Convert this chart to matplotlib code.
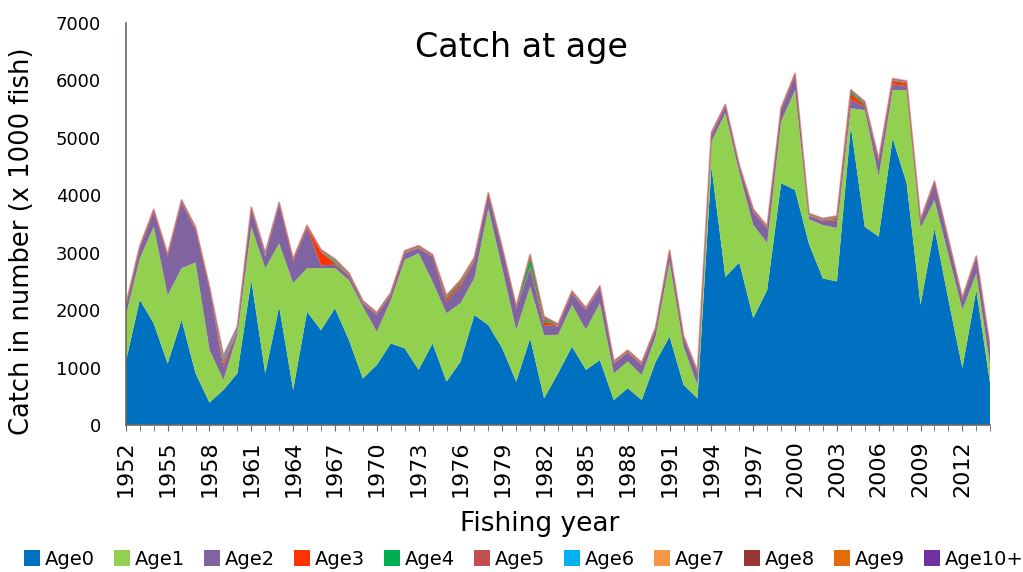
import numpy as np
import matplotlib
matplotlib.use("Agg")
import matplotlib.pyplot as plt
from matplotlib.ticker import FixedLocator, MultipleLocator

# Fishing years
years = list(range(1952, 2015))

# Catch at age (x 1000 fish)
age0 = [1100, 2180, 1770, 1070, 1830, 900, 390, 610, 900, 2520,
        900, 2060, 610, 1970, 1650, 2030, 1480, 810, 1045, 1420,
        1335, 960, 1420, 755, 1100, 1915, 1740, 1335, 755, 1510,
        465, 900, 1365, 960, 1130, 435, 640, 435, 1100, 1540,
        700, 465, 4500, 2580, 2830, 1860, 2350, 4210, 4090, 3150,
        2550, 2500, 5200, 3450, 3280, 4990, 4210, 2090, 3425, 2180,
        990, 2350, 700]
age1 = [800, 720, 1680, 1190, 900, 1930, 920, 175, 670, 930,
        1830, 1100, 1860, 760, 1080, 700, 1045, 1250, 580, 750,
        1540, 2030, 1075, 1190, 1020, 640, 2030, 1390, 900, 900,
        1100, 670, 725, 700, 990, 465, 465, 435, 440, 1300,
        665, 230, 430, 2850, 1560, 1620, 820, 1070, 1740, 430,
        930, 930, 315, 2030, 1045, 840, 1620, 1340, 490, 780,
        1015, 290, 320]
age2 = [150, 170, 260, 670, 1140, 560, 1050, 230, 70, 300,
        200, 670, 380, 700, 50, 60, 80, 60, 290, 90,
        115, 90, 430, 200, 300, 300, 230, 320, 370, 320,
        175, 145, 200, 340, 260, 170, 155, 175, 115, 160,
        145, 200, 120, 110, 90, 230, 250, 200, 250, 60,
        70, 130, 150, 60, 260, 100, 70, 110, 290, 230,
        170, 260, 280]
age3 = [8, 8, 8, 8, 10, 15, 10, 60, 8, 8,
        8, 8, 8, 10, 230, 25, 8, 8, 8, 8,
        8, 8, 8, 50, 40, 20, 8, 8, 8, 30,
        60, 8, 8, 8, 8, 8, 8, 8, 8, 8,
        8, 8, 8, 8, 8, 15, 8, 8, 8, 8,
        10, 30, 100, 30, 8, 60, 50, 8, 8, 8,
        8, 8, 8]
age4 = [5, 5, 5, 5, 5, 5, 5, 20, 5, 5,
        5, 5, 5, 5, 10, 30, 5, 5, 5, 5,
        5, 5, 5, 30, 30, 10, 5, 5, 5, 150,
        40, 5, 5, 5, 5, 5, 5, 5, 5, 5,
        5, 5, 5, 5, 5, 5, 5, 5, 5, 5,
        5, 20, 40, 30, 5, 10, 10, 5, 5, 5,
        5, 5, 5]
age5 = [12, 12, 12, 12, 15, 15, 12, 40, 12, 12,
        12, 12, 12, 12, 15, 15, 12, 12, 12, 12,
        12, 12, 12, 15, 15, 12, 12, 12, 12, 40,
        30, 12, 12, 12, 12, 12, 12, 12, 12, 12,
        12, 12, 12, 12, 12, 12, 12, 12, 12, 12,
        12, 12, 15, 12, 12, 12, 12, 12, 12, 12,
        12, 12, 12]
age6 = [3, 3, 3, 3, 3, 3, 3, 50, 30, 3,
        30, 3, 3, 3, 3, 15, 3, 3, 3, 3,
        3, 3, 3, 3, 3, 3, 3, 3, 3, 3,
        3, 3, 3, 3, 3, 3, 3, 3, 3, 3,
        3, 3, 3, 3, 3, 3, 3, 3, 3, 3,
        3, 3, 3, 3, 3, 3, 3, 3, 3, 3,
        3, 3, 3]
age7 = [2, 2, 2, 2, 2, 2, 2, 10, 2, 2,
        2, 2, 2, 2, 2, 2, 2, 2, 2, 2,
        2, 2, 2, 2, 2, 2, 2, 2, 2, 2,
        2, 2, 2, 2, 2, 2, 2, 2, 2, 2,
        2, 2, 2, 2, 2, 2, 2, 2, 2, 2,
        2, 2, 2, 2, 2, 2, 2, 2, 2, 2,
        2, 2, 2]
age8 = [8, 8, 8, 8, 8, 8, 8, 8, 8, 8,
        8, 8, 8, 8, 8, 8, 8, 8, 8, 8,
        8, 8, 8, 8, 8, 8, 8, 8, 8, 8,
        8, 8, 8, 8, 8, 8, 8, 8, 8, 8,
        8, 8, 8, 8, 8, 8, 8, 8, 8, 8,
        8, 8, 8, 8, 8, 8, 8, 8, 8, 8,
        8, 8, 8]
age9 = [2, 2, 2, 2, 2, 2, 2, 2, 2, 2,
        2, 2, 2, 2, 2, 2, 2, 2, 2, 2,
        2, 2, 2, 2, 2, 2, 2, 2, 2, 2,
        2, 2, 2, 2, 2, 2, 2, 2, 2, 2,
        2, 2, 2, 2, 2, 2, 2, 2, 2, 2,
        2, 2, 2, 2, 2, 2, 2, 2, 2, 2,
        2, 2, 2]
age10 = [2, 2, 2, 2, 2, 2, 2, 2, 2, 2,
         2, 2, 2, 2, 2, 2, 2, 2, 2, 2,
         2, 2, 2, 2, 2, 2, 2, 2, 2, 2,
         2, 2, 2, 2, 2, 2, 2, 2, 2, 2,
         2, 2, 2, 2, 2, 2, 2, 2, 2, 2,
         2, 2, 2, 2, 2, 2, 2, 2, 2, 2,
         2, 2, 2]

labels = ["Age0", "Age1", "Age2", "Age3", "Age4", "Age5", "Age6",
          "Age7", "Age8", "Age9", "Age10+"]
colors = ["#0070c0", "#92d050", "#8064a2", "#ff3300", "#00b050", "#c0504d",
          "#00b0f0", "#f79646", "#953735", "#e36c09", "#7030a0"]

series = [age0, age1, age2, age3, age4, age5, age6, age7, age8, age9, age10]

fig = plt.figure(figsize=(10.23, 5.72), dpi=100)
ax = fig.add_axes([0.123, 0.257, 0.845, 0.703])

ax.stackplot(years, *series, labels=labels, colors=colors, linewidth=0)

# thin reddish outline along the top of the stack, as in the original
total = np.sum(np.array(series), axis=0)
ax.plot(years, total, color="#c0504d", lw=1.3, alpha=0.55)

ax.set_xlim(1952, 2014)
ax.set_ylim(0, 7000)

# Axis styling
axis_col = "#6e6a58"
for side in ["top", "right"]:
    ax.spines[side].set_visible(False)
for side in ["left", "bottom"]:
    ax.spines[side].set_color(axis_col)
    ax.spines[side].set_linewidth(1.2)

ax.xaxis.set_major_locator(FixedLocator(list(range(1952, 2015, 3))))
ax.xaxis.set_minor_locator(MultipleLocator(1))
ax.tick_params(axis="x", which="both", direction="out", length=4,
               color=axis_col, labelsize=16, labelrotation=90, pad=7)
ax.yaxis.set_major_locator(MultipleLocator(1000))
ax.tick_params(axis="y", length=0, labelsize=13, pad=18)

fig.text(540 / 1023, 1 - 524 / 572, "Fishing year", fontsize=19,
         ha="center", va="center")
fig.text(22 / 1023, 1 - 241 / 572, "Catch in number (x 1000 fish)",
         fontsize=18.5, rotation=90, ha="center", va="center")
fig.text(521 / 1023, 1 - 48 / 572, "Catch at age", fontsize=24,
         ha="center", va="center")

ax.legend(loc="lower center", bbox_to_anchor=(524 / 1023, -0.025),
          bbox_transform=fig.transFigure, ncol=11, frameon=False,
          fontsize=14, handlelength=0.8, handleheight=0.9,
          handletextpad=0.25, columnspacing=1.0)

fig.savefig("out.png", dpi=100)
